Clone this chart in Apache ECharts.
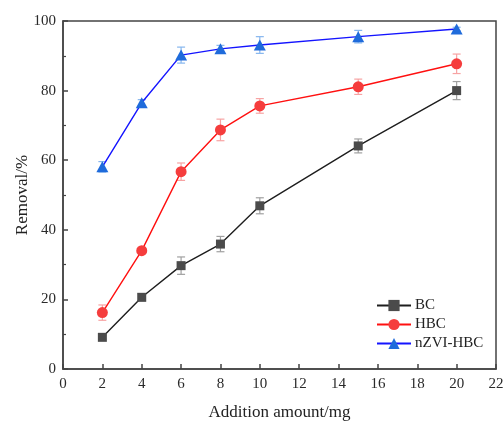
<!DOCTYPE html>
<html>
<head>
<meta charset="utf-8">
<script src="https://cdn.jsdelivr.net/npm/echarts@6/dist/echarts.min.js"></script>
<style>
  html, body { margin: 0; padding: 0; background: #fff; }
  #chart { width: 503px; height: 424px; }
</style>
</head>
<body>
<div id="chart"></div>
<script>
// Addition amount (mg)
var amounts = [2, 4, 6, 8, 10, 15, 20];

// Removal (%) and standard deviations for each adsorbent
var bcValues = [9.1, 20.6, 29.7, 35.9, 46.9, 64.1, 80.0];
var bcErrors = [0.5, 1.0, 2.5, 2.2, 2.3, 2.0, 2.6];

var hbcValues = [16.2, 34.0, 56.7, 68.7, 75.6, 81.1, 87.7];
var hbcErrors = [2.2, 0.6, 2.5, 3.1, 2.1, 2.2, 2.8];

var nzviValues = [58.1, 76.5, 90.2, 92.0, 93.1, 95.5, 97.7];
var nzviErrors = [1.5, 0.9, 2.3, 1.0, 2.4, 1.8, 0.5];

var seriesNames = ['BC', 'HBC', 'nZVI-HBC'];

var FONT = '"Liberation Serif", "Times New Roman", serif';

function pairs(values) {
  return amounts.map(function (x, i) { return [x, values[i]]; });
}

function errorData(values, errors) {
  return amounts.map(function (x, i) {
    return [x, values[i] - errors[i], values[i] + errors[i]];
  });
}

function errorSeries(name, values, errors, color) {
  return {
    name: name + ' SD',
    type: 'custom',
    z: 1,
    silent: true,
    data: errorData(values, errors),
    encode: { x: 0, y: [1, 2] },
    renderItem: function (params, api) {
      var x = api.value(0);
      var lo = api.coord([x, api.value(1)]);
      var hi = api.coord([x, api.value(2)]);
      var cap = 4;
      var style = { stroke: color, lineWidth: 1.2, fill: null };
      return {
        type: 'group',
        children: [
          { type: 'line', shape: { x1: lo[0], y1: lo[1], x2: hi[0], y2: hi[1] }, style: style },
          { type: 'line', shape: { x1: lo[0] - cap, y1: lo[1], x2: lo[0] + cap, y2: lo[1] }, style: style },
          { type: 'line', shape: { x1: hi[0] - cap, y1: hi[1], x2: hi[0] + cap, y2: hi[1] }, style: style }
        ]
      };
    }
  };
}

function lineSeries(name, values, symbol, size, markerColor, lineColor) {
  return {
    name: name,
    type: 'line',
    z: 3,
    data: pairs(values),
    symbol: symbol,
    symbolSize: size,
    showAllSymbol: true,
    itemStyle: { color: markerColor, opacity: 1 },
    lineStyle: { color: lineColor, width: 1.4 },
    emphasis: { disabled: true }
  };
}

var chart = echarts.init(document.getElementById('chart'), null, { renderer: 'canvas' });

chart.setOption({
  animation: false,
  backgroundColor: '#fff',
  grid: {
    left: 63, top: 21, right: 7, bottom: 55,
    outerBoundsMode: 'none',
    containLabel: false,
    show: true, borderColor: '#444', borderWidth: 1.5, backgroundColor: 'transparent'
  },
  legend: {
    orient: 'vertical',
    left: 376,
    top: 298,
    padding: 0,
    itemWidth: 34,
    itemHeight: 14,
    itemGap: 4,
    data: seriesNames,
    textStyle: { fontFamily: FONT, fontSize: 15, color: '#222', padding: [0, 0, 0, -1] }
  },
  xAxis: {
    type: 'value',
    min: 0, max: 22, interval: 2,
    name: 'Addition amount/mg',
    nameLocation: 'middle',
    nameGap: 35,
    nameMoveOverlap: false,
    nameTextStyle: { fontFamily: FONT, fontSize: 17, color: '#222' },
    axisLine: { lineStyle: { color: '#444', width: 1.5 } },
    axisTick: { inside: true, length: 5, lineStyle: { color: '#444', width: 1.5 } },
    axisLabel: { fontFamily: FONT, fontSize: 15, color: '#2a2a2a', margin: 8 },
    splitLine: { show: false }
  },
  yAxis: {
    type: 'value',
    min: 0, max: 100, interval: 20,
    name: 'Removal/%',
    nameLocation: 'middle',
    nameGap: 32,
    nameMoveOverlap: false,
    nameTextStyle: { fontFamily: FONT, fontSize: 17, color: '#222' },
    axisLine: { show: true, lineStyle: { color: '#444', width: 1.5 } },
    axisTick: { show: true, inside: true, length: 5, lineStyle: { color: '#444', width: 1.5 } },
    minorTick: { show: true, splitNumber: 2, length: 3, lineStyle: { color: '#444', width: 1.2 } },
    axisLabel: { fontFamily: FONT, fontSize: 15, color: '#2a2a2a', margin: 7 },
    splitLine: { show: false }
  },
  series: [
    errorSeries('BC', bcValues, bcErrors, '#a0a0a0'),
    errorSeries('HBC', hbcValues, hbcErrors, '#f7a3a3'),
    errorSeries('nZVI-HBC', nzviValues, nzviErrors, '#86b6ee'),
    lineSeries('BC', bcValues, 'rect', 9, '#4b4b4b', '#1e1e1e'),
    lineSeries('HBC', hbcValues, 'circle', 11, '#f53d3d', '#ff1010'),
    lineSeries('nZVI-HBC', nzviValues, 'triangle', [12, 11], '#1f6bdb', '#1414ff')
  ]
});
</script>
</body>
</html>
